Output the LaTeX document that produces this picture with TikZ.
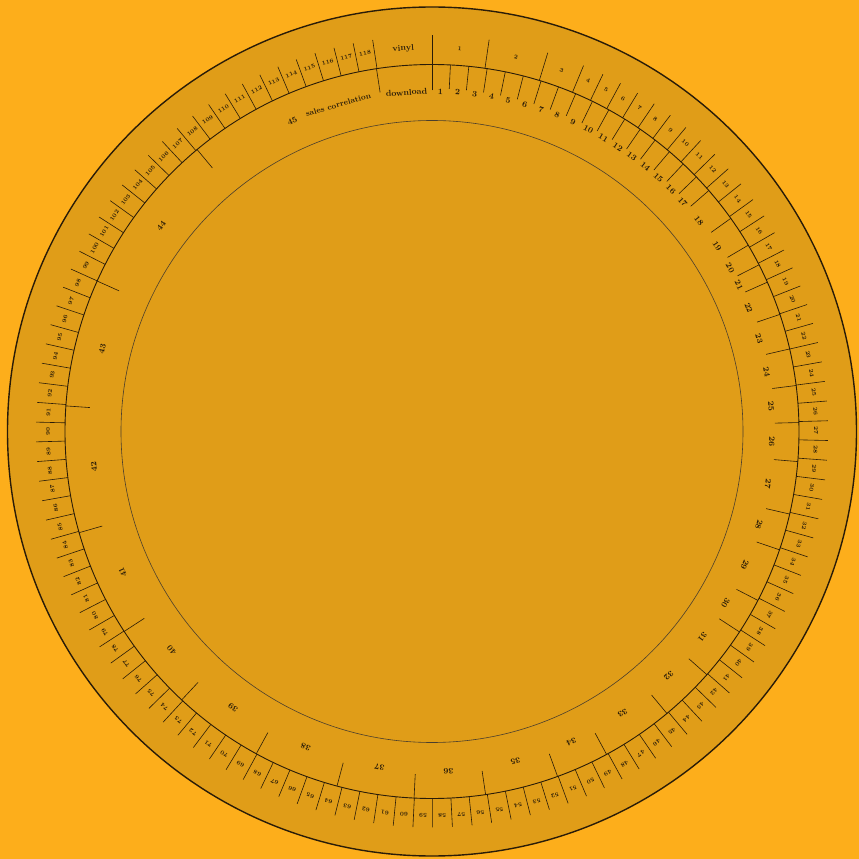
\documentclass[tikz,border=0pt]{standalone}
\usepackage{tikz}
\usetikzlibrary{positioning}
\definecolor{bgorange}{HTML}{FDAE1B}
\definecolor{discorange}{HTML}{E09D18}
\definecolor{inkline}{HTML}{2A1C08}

\begin{document}
\begin{tikzpicture}[x=1pt, y=1pt,
    vnum/.style={font=\fontsize{5.8}{6}\selectfont\bfseries, text=inkline, inner sep=0pt},
    dnum/.style={font=\fontsize{8.2}{9}\selectfont\bfseries, text=inkline, inner sep=0pt},
    ringlabel/.style={font=\fontsize{8.5}{9}\selectfont\bfseries, text=inkline, inner sep=0pt},
    titlelabel/.style={font=\fontsize{7.8}{9}\selectfont\bfseries, text=inkline, inner sep=0pt},
    tickline/.style={draw=inkline, line width=0.6pt}
]

% background and bounding box
\fill[bgorange] (-432,-427.5) rectangle (427,431.5);
\useasboundingbox (-432,-427.5) rectangle (427,431.5);

% disc and rings
\coordinate (centre) at (0,0);
\fill[discorange] (centre) circle (424.5);
\draw[inkline, line width=1.4pt] (centre) circle (424.5);
\draw[inkline, line width=0.9pt] (centre) circle (367);
\draw[inkline!85, line width=0.6pt] (centre) circle (311);

% vinyl ring: ticks
\foreach \ang in {0, 8.3, 17, 22.5}
    \draw[tickline] (90-\ang:367) -- (90-\ang:396);
\foreach \k in {0,...,114}{
    \pgfmathsetmacro\ang{25.57+\k*2.858}
    \draw[tickline] (90-\ang:367) -- (90-\ang:396);
}

% vinyl ring: numbers
\foreach \ang [count=\i] in {4.15, 12.65, 19.75, 24.0}
    \node[vnum, rotate=-\ang] (v\i) at (90-\ang:384) {\i};
\foreach \i in {5,...,118}{
    \pgfmathsetmacro\ang{25.57+(\i-4.5)*2.858}
    \node[vnum, rotate=-\ang] (v\i) at (90-\ang:384) {\i};
}
\node[ringlabel, rotate=4.3] (vinyl) at (94.3:384) {vinyl};

% download ring: ticks and numbers
\draw[tickline] (90:341) -- (90:367);
\foreach \b [count=\i, remember=\b as \a (initially 0)] in {2.88, 5.76, 8.64, 11.52, 14.4, 17.28, 20.16, 23.04, 25.92, 28.8, 31.68, 34.56, 37.44, 40.32, 43.2, 46.08, 48.96, 54.5, 59.5, 63, 66, 71.4, 77, 82.8, 88.6, 94.7, 103, 108.8, 117.4, 123.1, 131.5, 140.2, 151.6, 160, 171.6, 182.8, 195, 208.6, 223, 237, 254, 274, 294.2, 320.2, 351.3}{
    \pgfmathsetmacro\mid{(\a+\b)/2}
    \draw[tickline] (90-\b:343) -- (90-\b:367);
    \node[dnum, rotate=-\mid] (d\i) at (90-\mid:340) {\i};
}
\node[ringlabel, rotate=4.3] (download) at (94.3:340) {download};

% title inside the last segment
\node[titlelabel, rotate=16] (title) at (106:340) {sales correlation};

\end{tikzpicture}
\end{document}
